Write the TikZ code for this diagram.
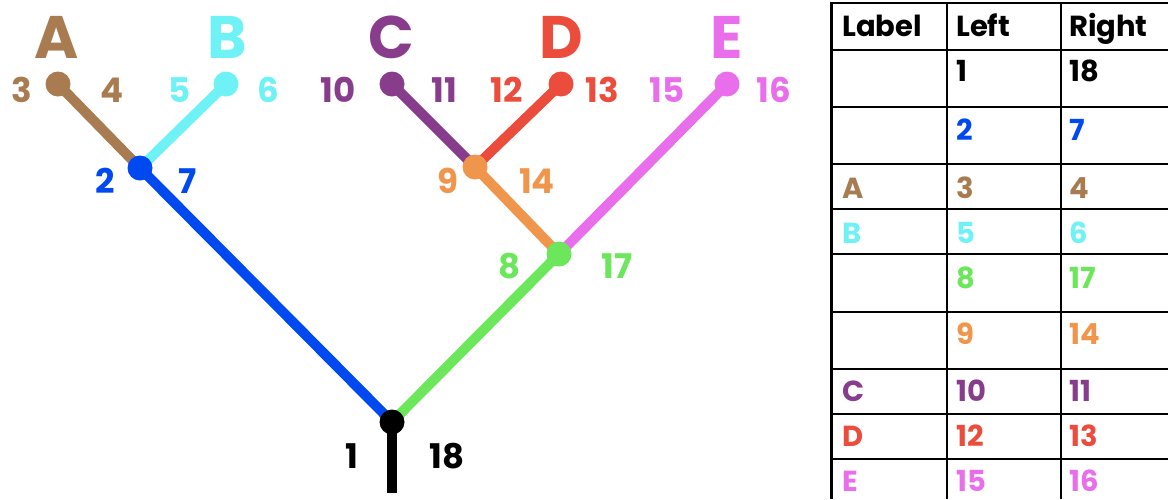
\documentclass[tikz,border=0pt]{standalone}
\usepackage{fontspec}
\setmainfont{Poppins}
\usetikzlibrary{backgrounds}
\definecolor{cbrown}{RGB}{168,123,80}
\definecolor{ccyan}{RGB}{110,242,245}
\definecolor{cblue}{RGB}{0,72,240}
\definecolor{cpurple}{RGB}{136,60,140}
\definecolor{cred}{RGB}{235,76,60}
\definecolor{cpink}{RGB}{233,110,235}
\definecolor{corange}{RGB}{240,150,76}
\definecolor{cgreen}{RGB}{108,230,90}
\tikzset{
  dot/.style={circle,inner sep=0pt,minimum size=25pt,fill=#1},
  edge/.style={line width=10pt,draw=#1},
  big/.style={font=\bfseries\fontsize{60}{60}\selectfont,text=#1,inner sep=0pt},
  num/.style={font=\bfseries\fontsize{34}{34}\selectfont,text=#1,inner sep=0pt},
  cell/.style={font=\bfseries\fontsize{29}{29}\selectfont,text=#1,inner sep=0pt,anchor=base west},
  grid/.style={line width=2pt,draw=black},
}
\begin{document}
\begin{tikzpicture}[x=1pt,y=-1pt]
\useasboundingbox (0,0) rectangle (1168,499);
\clip (0,0) rectangle (1168,499);
% tree nodes
\node[dot=black] (root) at (392,422) {};
\coordinate (stem) at (392,493);
\node[dot=cblue] (n2) at (140,168) {};
\node[dot=cgreen] (n8) at (559,254) {};
\node[dot=corange] (n9) at (475,167) {};
\node[dot=cbrown] (lA) at (58,84) {};
\node[dot=ccyan] (lB) at (226,84) {};
\node[dot=cpurple] (lC) at (392,84) {};
\node[dot=cred] (lD) at (561,84) {};
\node[dot=cpink] (lE) at (727,84) {};
\begin{scope}[on background layer]
\draw[edge=black] (root.center) -- (stem);
\draw[edge=cblue] (root.center) -- (n2.center);
\draw[edge=cgreen] (root.center) -- (n8.center);
\draw[edge=cbrown] (n2.center) -- (lA.center);
\draw[edge=ccyan] (n2.center) -- (lB.center);
\draw[edge=corange] (n8.center) -- (n9.center);
\draw[edge=cpink] (n8.center) -- (lE.center);
\draw[edge=cpurple] (n9.center) -- (lC.center);
\draw[edge=cred] (n9.center) -- (lD.center);
\end{scope}
% leaf letters
\node[big=cbrown] (tA) at (57,37) {A};
\node[big=ccyan] (tB) at (227,37) {B};
\node[big=cpurple] (tC) at (391,37) {C};
\node[big=cred] (tD) at (561,37) {D};
\node[big=cpink] (tE) at (727,37) {E};
% numbers
\node[num=cbrown] (k3) at (22,90) {3};
\node[num=cbrown] (k4) at (112,90) {4};
\node[num=ccyan] (k5) at (180,90) {5};
\node[num=ccyan] (k6) at (268,90) {6};
\node[num=cpurple] (k10) at (338,90) {10};
\node[num=cpurple] (k11) at (444,90) {11};
\node[num=cred] (k12) at (507,90) {12};
\node[num=cred] (k13) at (602,90) {13};
\node[num=cpink] (k15) at (667,90) {15};
\node[num=cpink] (k16) at (774,90) {16};
\node[num=cblue] (k2) at (105,181) {2};
\node[num=cblue] (k7) at (188,181) {7};
\node[num=corange] (k9) at (448,181) {9};
\node[num=corange] (k14) at (537,181) {14};
\node[num=cgreen] (k8) at (510,266) {8};
\node[num=cgreen] (k17) at (617,266) {17};
\node[num=black] (k1) at (352,456) {1};
\node[num=black] (k18) at (447,456) {18};
% table grid
\draw[line width=3pt] (831,3) -- (831,499);
\draw[grid] (947,3) -- (947,499);
\draw[grid] (1061,3) -- (1061,499);
\foreach \y in {3,50,107,164,209,254,312,369,414,459}
  \draw[grid] (830,\y) -- (1168,\y);
% table text
\node[cell=black] (h1) at (842,36) {Label};
\node[cell=black] (h2) at (956,36) {Left};
\node[cell=black] (h3) at (1069,36) {Right};
\node[cell=black] (r1l) at (956,81) {1};
\node[cell=black] (r1r) at (1069,81) {18};
\node[cell=cblue] (r2l) at (956,140) {2};
\node[cell=cblue] (r2r) at (1069,140) {7};
\node[cell=cbrown] (r3a) at (842,198) {A};
\node[cell=cbrown] (r3l) at (956,198) {3};
\node[cell=cbrown] (r3r) at (1069,198) {4};
\node[cell=ccyan] (r4a) at (842,243) {B};
\node[cell=ccyan] (r4l) at (956,243) {5};
\node[cell=ccyan] (r4r) at (1069,243) {6};
\node[cell=cgreen] (r5l) at (956,288) {8};
\node[cell=cgreen] (r5r) at (1069,288) {17};
\node[cell=corange] (r6l) at (956,344) {9};
\node[cell=corange] (r6r) at (1069,344) {14};
\node[cell=cpurple] (r7a) at (842,401) {C};
\node[cell=cpurple] (r7l) at (956,401) {10};
\node[cell=cpurple] (r7r) at (1069,401) {11};
\node[cell=cred] (r8a) at (842,446) {D};
\node[cell=cred] (r8l) at (956,446) {12};
\node[cell=cred] (r8r) at (1069,446) {13};
\node[cell=cpink] (r9a) at (842,491) {E};
\node[cell=cpink] (r9l) at (956,491) {15};
\node[cell=cpink] (r9r) at (1069,491) {16};
\end{tikzpicture}
\end{document}
